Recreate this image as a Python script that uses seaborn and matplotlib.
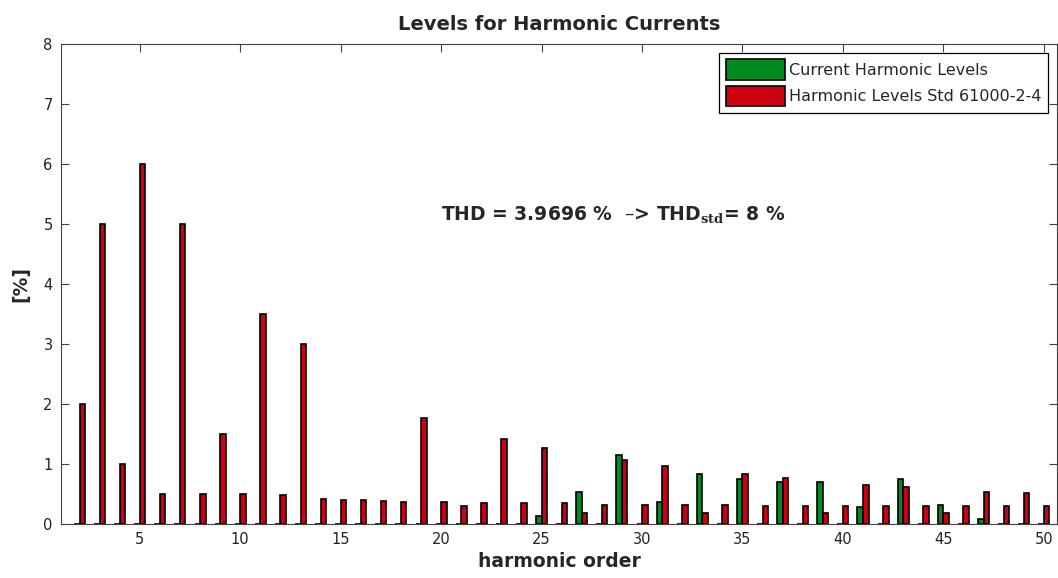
import matplotlib
matplotlib.use("Agg")
import matplotlib.pyplot as plt
import pandas as pd
import seaborn as sns

# Harmonic orders shown on the x axis
orders = list(range(2, 51))

# Measured current harmonic levels [%]
current_levels = [
    0, 0, 0, 0, 0, 0, 0, 0, 0, 0,          # 2-11
    0, 0, 0, 0, 0, 0, 0, 0, 0, 0,          # 12-21
    0, 0, 0, 0.13, 0, 0.54, 0, 1.15, 0, 0.37,  # 22-31
    0, 0.83, 0, 0.75, 0, 0.70, 0, 0.70, 0, 0.28,  # 32-41
    0, 0.75, 0, 0.32, 0, 0.08, 0, 0, 0,    # 42-50
]

# Compatibility levels from IEC 61000-2-4 [%]
std_levels = [
    2.0, 5.0, 1.0, 6.0, 0.5, 5.0, 0.5, 1.5, 0.5, 3.5,      # 2-11
    0.48, 3.0, 0.42, 0.40, 0.40, 0.39, 0.37, 1.77, 0.37, 0.30,  # 12-21
    0.35, 1.41, 0.35, 1.26, 0.35, 0.19, 0.32, 1.06, 0.32, 0.97,  # 22-31
    0.32, 0.19, 0.32, 0.83, 0.30, 0.76, 0.30, 0.19, 0.30, 0.65,  # 32-41
    0.30, 0.61, 0.30, 0.19, 0.30, 0.54, 0.30, 0.52, 0.30,  # 42-50
]

series_names = ["Current Harmonic Levels", "Harmonic Levels Std 61000-2-4"]
series_colors = ["#008C1E", "#CC0010"]

x_ticks = [5, 10, 15, 20, 25, 30, 35, 40, 45, 50]
y_ticks = [0, 1, 2, 3, 4, 5, 6, 7, 8]

thd_measured = 3.9696
thd_std = 8

df = pd.DataFrame({
    "order": orders * 2,
    "level": current_levels + std_levels,
    "series": [series_names[0]] * len(orders) + [series_names[1]] * len(orders),
})

sns.set_style("ticks")
plt.rcParams["font.family"] = ["DejaVu Sans"]
plt.rcParams["mathtext.fontset"] = "dejavuserif"

fig = plt.figure(figsize=(10.58, 5.78), dpi=100)
fig.patch.set_facecolor("white")
ax = fig.add_axes([0.0577, 0.0934, 0.9418, 0.8305])

sns.barplot(
    data=df, x="order", y="level", hue="series",
    hue_order=series_names, palette=series_colors,
    native_scale=True, width=0.55, errorbar=None,
    edgecolor="black", linewidth=1.2, saturation=1,
    ax=ax,
)

ax.set_xlim(1.08, 50.68)
ax.set_ylim(0, 8)
ax.set_xticks(x_ticks)
ax.set_yticks(y_ticks)
ax.tick_params(direction="in", length=6, width=0.8, top=True, right=True,
               labelsize=10.5, colors="#444444", labelcolor="#222222", pad=6)
for side in ["top", "bottom", "left", "right"]:
    ax.spines[side].set_visible(True)
    ax.spines[side].set_color("#444444")
    ax.spines[side].set_linewidth(0.8)

ax.set_title("Levels for Harmonic Currents", fontsize=14, fontweight="bold", pad=10)
ax.set_xlabel("harmonic order", fontsize=13.5, fontweight="bold", labelpad=3)
ax.set_ylabel("[%]", fontsize=13.5, fontweight="bold", labelpad=9)

ax.text(20, 5.15,
        f"THD = {thd_measured} %  –> THD" + r"$_{\mathbf{std}}$" + f"= {thd_std} %",
        fontsize=13.5, fontweight="bold", ha="left", va="center")

handles, labels = ax.get_legend_handles_labels()
leg = ax.legend(handles, labels, loc="upper right", bbox_to_anchor=(0.99, 0.981),
                borderaxespad=0, fontsize=11.5, handlelength=3.7, handleheight=1.6,
                labelspacing=0.37, handletextpad=0.25, borderpad=0.4,
                fancybox=False, framealpha=1, edgecolor="black")
leg.get_frame().set_linewidth(0.9)

fig.savefig("out.png", dpi=100, facecolor="white")
